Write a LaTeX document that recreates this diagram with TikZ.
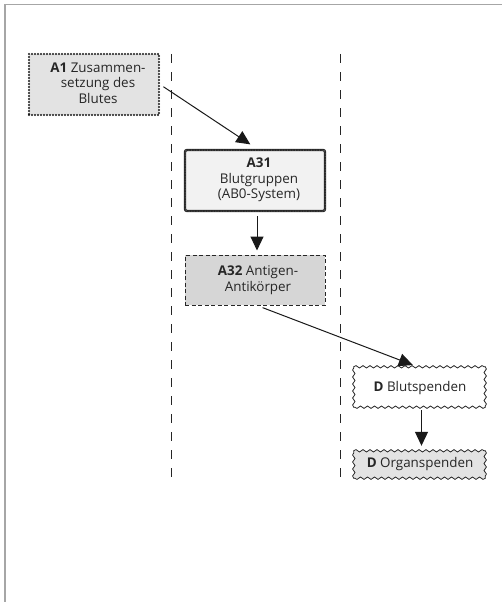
\documentclass[tikz,border=0pt]{standalone}
\usepackage{fontspec}
\setmainfont{Open Sans}
\usetikzlibrary{arrows.meta,decorations.pathmorphing}
\begin{document}
\begin{tikzpicture}[x=1pt,y=-1pt,
  every node/.style={font=\fontsize{13.4}{15.4}\selectfont, text=black!85},
  box/.style={rectangle, inner sep=0pt},
  txt/.style={align=center, inner sep=0pt},
  dotbox/.style={box, fill=black!11, draw=black!90, line width=2.1pt, dash pattern=on 0pt off 3pt, line cap=round},
  thickbox/.style={box, fill=black!5, draw=black!85, line width=2.4pt, rounded corners=2pt,
    postaction={draw=black!40, line width=0.5pt, dash pattern=on 0.6pt off 1pt, rounded corners=2pt}},
  dashbox/.style={box, fill=black!16, draw=black!85, line width=1pt, dash pattern=on 4pt off 2.5pt},
  wavy/.style={draw=black!85, line width=0.8pt, line cap=round, decorate,
    decoration={snake, amplitude=1.2pt, segment length=7pt}},
  lane/.style={draw=black!85, line width=0.8pt, dash pattern=on 9pt off 9pt},
  flow/.style={draw=black!90, line width=1pt, -{Triangle[length=14pt,width=13pt]}},
  frame/.style={draw=black!35, line width=1.8pt}
]
\useasboundingbox (0,0) rectangle (502,602);
% outer frame: top and left rule
\draw[frame] (5,602) -- (5,4.5) -- (502,4.5);

% lane separators
\coordinate (l1t) at (171,54); \coordinate (l1b) at (171,481);
\coordinate (l2t) at (340,54); \coordinate (l2b) at (340,481);
\draw[lane] (l1t) -- (l1b);
\draw[lane] (l2t) -- (l2b);

% boxes
\node[dotbox, minimum width=130pt, minimum height=61pt] (a1) at (94,84.5) {};
\node[txt] at (98,83) {\textbf{A1} Zusammen-\\setzung des\\Blutes};

\node[thickbox, minimum width=140pt, minimum height=61pt] (a31) at (255,180.5) {};
\node[txt] at (259,180) {\textbf{A31}\\Blutgruppen\\(AB0-System)};

\node[dashbox, minimum width=140pt, minimum height=50pt] (a32) at (255,280) {};
\node[txt] at (258,280) {\textbf{A32} Antigen-\\Antikörper};

% wavy-edged boxes, each side drawn on its own
\node[box, fill=white, minimum width=131pt, minimum height=40pt] (bs) at (419.5,387) {};
\draw[wavy] (bs.north west) -- (bs.north east);
\draw[wavy] (bs.north east) -- (bs.south east);
\draw[wavy] (bs.south east) -- (bs.south west);
\draw[wavy] (bs.south west) -- (bs.north west);
\node[txt] at (420,388) {\textbf{D} Blutspenden};

\node[box, fill=black!11, minimum width=131pt, minimum height=27pt] (os) at (419.5,464.5) {};
\draw[wavy] (os.north west) -- (os.north east);
\draw[wavy] (os.north east) -- (os.south east);
\draw[wavy] (os.south east) -- (os.south west);
\draw[wavy] (os.south west) -- (os.north west);
\node[txt] at (420,464) {\textbf{D} Organspenden};

% connectors
\draw[flow, shorten <=4pt, shorten >=8pt] (a1.east) -- ([xshift=2pt]a31.north);
\draw[flow, shorten <=4pt, shorten >=4pt] ([xshift=2pt]a31.south) -- ([xshift=2pt]a32.north);
\draw[flow, shorten <=6pt, shorten >=5pt] ([xshift=2pt]a32.south) -- ([xshift=-2pt]bs.north);
\draw[flow, shorten <=3pt, shorten >=5pt] ([xshift=2pt]bs.south) -- ([xshift=2pt]os.north);
\end{tikzpicture}
\end{document}
